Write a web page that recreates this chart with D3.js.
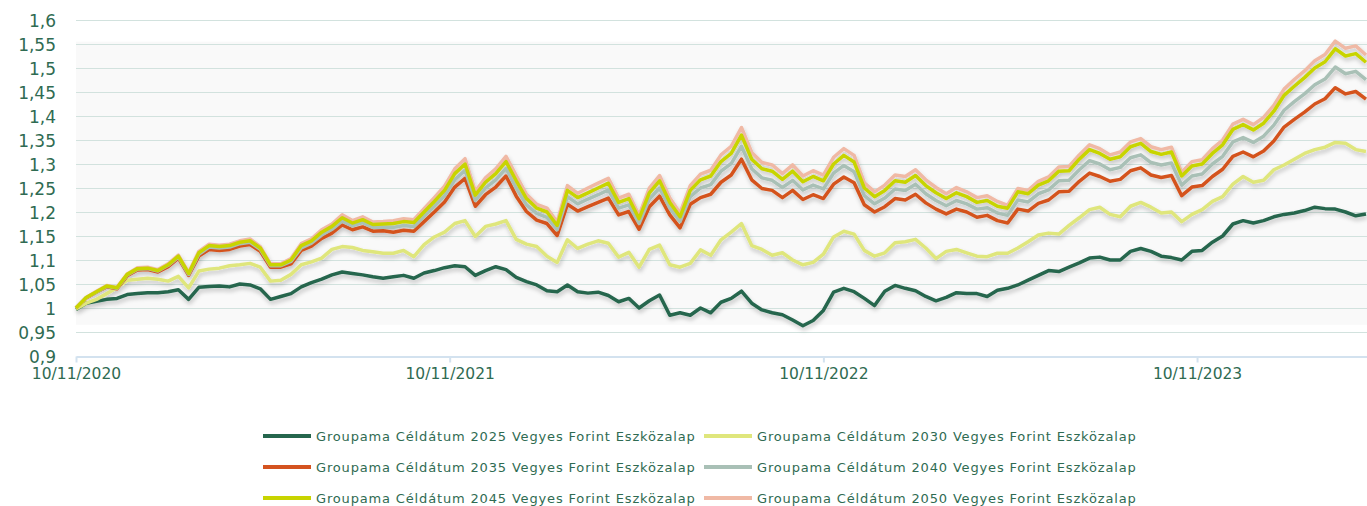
<!DOCTYPE html>
<html lang="hu">
<head>
<meta charset="UTF-8">
<title>Groupama Céldátum alapok</title>
<style>
  html, body { margin: 0; padding: 0; background: #ffffff; }
  #chart { width: 1367px; height: 506px; }
  .grid line { stroke: #d2e2de; stroke-width: 1; }
  .axis text { fill: #2f6b52; font-family: "DejaVu Sans", sans-serif; }
  .legend text { fill: #2f6b52; font-family: "DejaVu Sans", sans-serif; }
</style>
</head>
<body>
<div id="chart"></div>
<script src="https://cdn.jsdelivr.net/npm/d3@7"></script>
<script>
// dates of the sampled points (every 10 days)
const dates = [
  "2020-11-10","2020-11-20","2020-11-30","2020-12-10","2020-12-20","2020-12-30",
  "2021-01-09","2021-01-19","2021-01-29","2021-02-08","2021-02-18","2021-02-28",
  "2021-03-10","2021-03-20","2021-03-30","2021-04-09","2021-04-19","2021-04-29",
  "2021-05-09","2021-05-19","2021-05-29","2021-06-08","2021-06-18","2021-06-28",
  "2021-07-08","2021-07-18","2021-07-28","2021-08-07","2021-08-17","2021-08-27",
  "2021-09-06","2021-09-16","2021-09-26","2021-10-06","2021-10-16","2021-10-26",
  "2021-11-05","2021-11-15","2021-11-25","2021-12-05","2021-12-15","2021-12-25",
  "2022-01-04","2022-01-14","2022-01-24","2022-02-03","2022-02-13","2022-02-23",
  "2022-03-05","2022-03-15","2022-03-25","2022-04-04","2022-04-14","2022-04-24",
  "2022-05-04","2022-05-14","2022-05-24","2022-06-03","2022-06-13","2022-06-23",
  "2022-07-03","2022-07-13","2022-07-23","2022-08-02","2022-08-12","2022-08-22",
  "2022-09-01","2022-09-11","2022-09-21","2022-10-01","2022-10-11","2022-10-21",
  "2022-10-31","2022-11-10","2022-11-20","2022-11-30","2022-12-10","2022-12-20",
  "2022-12-30","2023-01-09","2023-01-19","2023-01-29","2023-02-08","2023-02-18",
  "2023-02-28","2023-03-10","2023-03-20","2023-03-30","2023-04-09","2023-04-19",
  "2023-04-29","2023-05-09","2023-05-19","2023-05-29","2023-06-08","2023-06-18",
  "2023-06-28","2023-07-08","2023-07-18","2023-07-28","2023-08-07","2023-08-17",
  "2023-08-27","2023-09-06","2023-09-16","2023-09-26","2023-10-06","2023-10-16",
  "2023-10-26","2023-11-05","2023-11-15","2023-11-25","2023-12-05","2023-12-15",
  "2023-12-25","2024-01-04","2024-01-14","2024-01-24","2024-02-03","2024-02-13",
  "2024-02-23","2024-03-04","2024-03-14","2024-03-24","2024-04-03","2024-04-13",
  "2024-04-23"
];

const fund2025 = [
  0.997,1.010,1.014,1.018,1.020,1.028,1.030,1.032,1.032,1.034,1.038,1.018,
  1.043,1.045,1.046,1.044,1.050,1.048,1.040,1.018,1.024,1.030,1.044,1.053,
  1.060,1.069,1.075,1.072,1.069,1.065,1.062,1.065,1.068,1.062,1.073,1.078,
  1.084,1.088,1.086,1.068,1.078,1.086,1.080,1.064,1.055,1.048,1.036,1.034,
  1.048,1.034,1.031,1.033,1.026,1.013,1.020,1.000,1.015,1.027,0.985,0.990,
  0.985,1.000,0.990,1.012,1.020,1.035,1.010,0.996,0.990,0.986,0.975,0.963,
  0.974,0.995,1.033,1.041,1.034,1.020,1.005,1.035,1.047,1.041,1.036,1.024,
  1.015,1.022,1.032,1.030,1.030,1.024,1.037,1.041,1.048,1.058,1.068,1.078,
  1.076,1.085,1.094,1.104,1.106,1.100,1.100,1.118,1.124,1.118,1.108,1.105,
  1.100,1.118,1.120,1.137,1.150,1.175,1.182,1.177,1.182,1.190,1.195,1.198,
  1.203,1.210,1.207,1.206,1.200,1.192,1.196
];

const fund2030 = [
  0.998,1.010,1.018,1.030,1.042,1.058,1.060,1.062,1.060,1.056,1.066,1.042,
  1.077,1.081,1.083,1.088,1.090,1.093,1.085,1.056,1.058,1.070,1.090,1.096,
  1.104,1.122,1.128,1.126,1.120,1.117,1.114,1.114,1.120,1.107,1.132,1.148,
  1.158,1.176,1.182,1.149,1.170,1.175,1.182,1.143,1.133,1.128,1.108,1.095,
  1.142,1.124,1.133,1.140,1.135,1.106,1.116,1.085,1.122,1.131,1.090,1.085,
  1.093,1.121,1.110,1.142,1.158,1.176,1.130,1.122,1.110,1.115,1.100,1.090,
  1.095,1.112,1.148,1.160,1.154,1.120,1.108,1.115,1.136,1.138,1.143,1.125,
  1.103,1.118,1.122,1.115,1.108,1.107,1.114,1.114,1.125,1.138,1.152,1.156,
  1.154,1.172,1.188,1.205,1.210,1.195,1.190,1.212,1.220,1.210,1.198,1.200,
  1.180,1.195,1.205,1.222,1.232,1.258,1.274,1.262,1.266,1.288,1.298,1.310,
  1.322,1.330,1.335,1.345,1.343,1.330,1.326
];

const fund2035 = [
  1.000,1.021,1.033,1.044,1.040,1.067,1.079,1.080,1.075,1.086,1.104,1.068,
  1.108,1.122,1.120,1.122,1.129,1.132,1.118,1.085,1.085,1.092,1.120,1.129,
  1.145,1.156,1.173,1.163,1.169,1.160,1.161,1.158,1.162,1.160,1.180,1.200,
  1.221,1.252,1.270,1.212,1.236,1.252,1.275,1.233,1.201,1.183,1.176,1.151,
  1.216,1.202,1.211,1.220,1.229,1.194,1.201,1.164,1.211,1.233,1.194,1.167,
  1.216,1.230,1.237,1.262,1.277,1.310,1.267,1.249,1.245,1.230,1.245,1.226,
  1.236,1.228,1.258,1.273,1.261,1.215,1.200,1.211,1.228,1.225,1.237,1.219,
  1.206,1.196,1.206,1.200,1.189,1.193,1.182,1.177,1.206,1.202,1.218,1.225,
  1.242,1.243,1.264,1.281,1.274,1.264,1.268,1.286,1.292,1.277,1.272,1.276,
  1.234,1.252,1.255,1.274,1.289,1.316,1.325,1.315,1.327,1.348,1.377,1.393,
  1.408,1.425,1.436,1.459,1.446,1.451,1.435
];

const fund2040 = [
  1.000,1.022,1.033,1.045,1.041,1.069,1.081,1.082,1.077,1.089,1.106,1.070,
  1.112,1.127,1.125,1.127,1.134,1.137,1.122,1.088,1.088,1.097,1.125,1.135,
  1.152,1.164,1.181,1.171,1.178,1.168,1.169,1.168,1.172,1.170,1.191,1.212,
  1.234,1.267,1.287,1.224,1.250,1.267,1.291,1.250,1.215,1.197,1.189,1.163,
  1.232,1.217,1.227,1.236,1.246,1.208,1.215,1.176,1.227,1.250,1.208,1.180,
  1.232,1.250,1.257,1.285,1.301,1.337,1.290,1.271,1.266,1.251,1.266,1.246,
  1.256,1.248,1.281,1.297,1.284,1.234,1.217,1.229,1.248,1.245,1.258,1.238,
  1.224,1.213,1.224,1.217,1.206,1.209,1.198,1.193,1.225,1.221,1.238,1.246,
  1.265,1.266,1.288,1.307,1.300,1.288,1.293,1.313,1.319,1.303,1.298,1.302,
  1.256,1.275,1.279,1.300,1.316,1.346,1.355,1.345,1.358,1.381,1.412,1.430,
  1.446,1.465,1.477,1.502,1.488,1.493,1.476
];

const fund2045 = [
  1.000,1.022,1.034,1.046,1.042,1.070,1.082,1.083,1.078,1.090,1.108,1.072,
  1.115,1.130,1.128,1.130,1.137,1.140,1.125,1.090,1.090,1.100,1.130,1.140,
  1.158,1.170,1.188,1.177,1.184,1.174,1.175,1.176,1.180,1.178,1.200,1.222,
  1.245,1.280,1.300,1.235,1.262,1.280,1.305,1.265,1.228,1.208,1.200,1.172,
  1.245,1.230,1.240,1.250,1.260,1.220,1.228,1.186,1.240,1.265,1.220,1.190,
  1.245,1.267,1.275,1.305,1.322,1.360,1.310,1.290,1.285,1.268,1.285,1.263,
  1.274,1.265,1.300,1.318,1.304,1.250,1.232,1.245,1.265,1.262,1.276,1.255,
  1.240,1.228,1.240,1.232,1.220,1.224,1.212,1.208,1.242,1.238,1.256,1.265,
  1.285,1.286,1.310,1.330,1.322,1.310,1.315,1.336,1.343,1.326,1.320,1.325,
  1.275,1.296,1.300,1.322,1.340,1.372,1.382,1.371,1.385,1.410,1.443,1.462,
  1.480,1.500,1.513,1.540,1.525,1.530,1.512
];

const fund2050 = [
  1.000,1.022,1.035,1.047,1.043,1.071,1.084,1.085,1.080,1.092,1.110,1.074,
  1.118,1.133,1.131,1.133,1.140,1.144,1.128,1.092,1.092,1.103,1.134,1.144,
  1.163,1.175,1.194,1.182,1.190,1.179,1.180,1.182,1.186,1.184,1.207,1.230,
  1.254,1.290,1.311,1.243,1.271,1.290,1.316,1.276,1.237,1.216,1.208,1.179,
  1.255,1.239,1.250,1.260,1.270,1.229,1.237,1.193,1.250,1.276,1.229,1.198,
  1.255,1.279,1.287,1.319,1.337,1.376,1.324,1.303,1.298,1.280,1.298,1.275,
  1.286,1.277,1.314,1.332,1.318,1.261,1.242,1.256,1.277,1.274,1.288,1.267,
  1.251,1.238,1.251,1.242,1.230,1.234,1.222,1.214,1.249,1.245,1.264,1.273,
  1.294,1.295,1.319,1.340,1.332,1.319,1.325,1.346,1.353,1.336,1.330,1.335,
  1.283,1.305,1.309,1.332,1.350,1.383,1.393,1.382,1.397,1.422,1.456,1.476,
  1.494,1.515,1.528,1.556,1.541,1.546,1.527
];

const fundNames = [
  "Groupama Céldátum 2025 Vegyes Forint Eszközalap",
  "Groupama Céldátum 2030 Vegyes Forint Eszközalap",
  "Groupama Céldátum 2035 Vegyes Forint Eszközalap",
  "Groupama Céldátum 2040 Vegyes Forint Eszközalap",
  "Groupama Céldátum 2045 Vegyes Forint Eszközalap",
  "Groupama Céldátum 2050 Vegyes Forint Eszközalap"
];
const fundColors = ["#25664d", "#dfe67c", "#d4531f", "#a9c0b6", "#c8d400", "#f0b9a5"];

const yTicks = [0.9, 0.95, 1, 1.05, 1.1, 1.15, 1.2, 1.25, 1.3, 1.35, 1.4, 1.45, 1.5, 1.55, 1.6];
const xTicks = ["2020-11-10", "2021-11-10", "2022-11-10", "2023-11-10"];

const parse = d3.timeParse("%Y-%m-%d");
const series = [fund2025, fund2030, fund2035, fund2040, fund2045, fund2050].map((vals, i) => ({
  name: fundNames[i],
  color: fundColors[i],
  points: vals.map((v, j) => ({ date: parse(dates[j]), value: v }))
}));

const width = 1367, height = 506;
const plotLeft = 76, plotRight = 1367, plotTop = 20, plotBottom = 356;

const x = d3.scaleTime()
  .domain([parse("2020-11-10"), parse("2024-04-24")])
  .range([plotLeft, plotRight]);
const y = d3.scaleLinear().domain([0.9, 1.6]).range([plotBottom, plotTop]);

const huLocale = d3.formatLocale({ decimal: ",", thousands: " ", grouping: [3], currency: ["", ""] });
const yFmt = huLocale.format("~g");

const svg = d3.select("#chart").append("svg")
  .attr("width", width).attr("height", height);

const defs = svg.append("defs");
const shadow = defs.append("filter").attr("id", "shadow")
  .attr("x", "-5%").attr("y", "-20%").attr("width", "110%").attr("height", "140%");
shadow.append("feDropShadow")
  .attr("dx", 1).attr("dy", 3).attr("stdDeviation", 2)
  .attr("flood-color", "#000").attr("flood-opacity", 0.22);

// faint plot backdrop
svg.append("rect")
  .attr("x", plotLeft).attr("y", y(1.555)).attr("width", plotRight - plotLeft).attr("height", y(0.965) - y(1.555))
  .attr("fill", "#f9f9f9");

// gridlines
svg.append("g").attr("class", "grid")
  .selectAll("line").data(yTicks.filter(d => d > 0.9)).join("line")
  .attr("x1", plotLeft).attr("x2", plotRight)
  .attr("y1", d => Math.round(y(d)) + 0.5).attr("y2", d => Math.round(y(d)) + 0.5);

// y axis labels
const yAxis = svg.append("g").attr("class", "axis")
  .attr("transform", `translate(${plotLeft - 20},0)`)
  .call(d3.axisLeft(y).tickValues(yTicks).tickFormat(yFmt).tickSize(0).tickPadding(0));
yAxis.select(".domain").remove();
yAxis.selectAll("text").attr("font-size", 17).attr("dy", "0.36em");

// x axis
const xAxis = svg.append("g").attr("class", "axis")
  .attr("transform", `translate(0,${Math.round(y(0.9)) + 0.5})`)
  .call(d3.axisBottom(x).tickValues(xTicks.map(parse)).tickFormat(d3.timeFormat("%d/%m/%Y")).tickSize(6).tickPadding(5).tickSizeOuter(0));
xAxis.select(".domain").attr("stroke", "#d3e2ef").attr("stroke-width", 2);
xAxis.selectAll(".tick line").attr("stroke", "#d3e2ef").attr("stroke-width", 2);
xAxis.selectAll("text").attr("font-size", 15.5);

// lines
const line = d3.line()
  .x(d => x(d.date))
  .y(d => y(d.value))
  .curve(d3.curveLinear);

const drawOrder = [0, 1, 2, 3, 5, 4];
svg.append("g").attr("filter", "url(#shadow)")
  .selectAll("path").data(drawOrder.map(i => series[i])).join("path")
  .attr("fill", "none")
  .attr("stroke", d => d.color)
  .attr("stroke-width", 3.5)
  .attr("stroke-linejoin", "round")
  .attr("d", d => line(d.points));

// legend
const legendRows = [436, 467, 498];
const legendCols = [263, 704];
const legend = svg.append("g").attr("class", "legend");
series.forEach((s, i) => {
  const lx = legendCols[i % 2], ly = legendRows[Math.floor(i / 2)];
  legend.append("line")
    .attr("x1", lx).attr("x2", lx + 48).attr("y1", ly).attr("y2", ly)
    .attr("stroke", s.color).attr("stroke-width", 4);
  const t = legend.append("text")
    .attr("x", lx + 53).attr("y", ly).attr("dy", "0.35em")
    .attr("font-size", 13)
    .text(s.name);
  const w = t.node().getComputedTextLength();
  const target = 379;
  t.attr("letter-spacing", ((target - w) / (s.name.length - 1)).toFixed(2) + "px");
});
</script>
</body>
</html>
